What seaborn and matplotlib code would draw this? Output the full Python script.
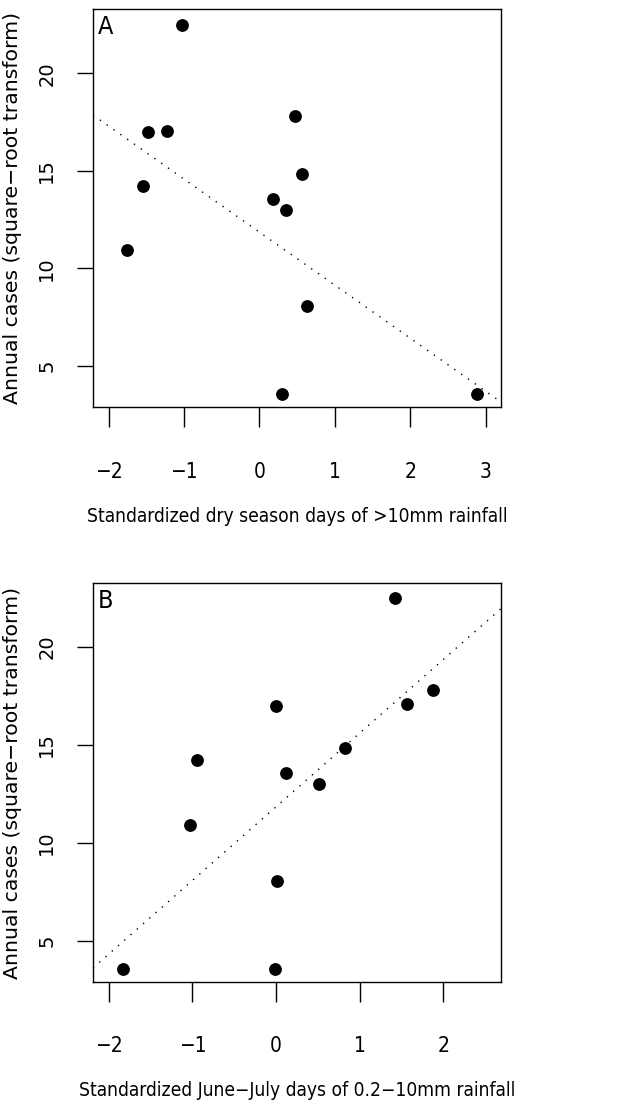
import matplotlib
matplotlib.use("Agg")
import matplotlib.pyplot as plt
import pandas as pd
import seaborn as sns

sns.set_theme(style="white")
plt.rcParams['font.family'] = ['DejaVu Sans']
plt.rcParams.update({"text.color": "black", "axes.labelcolor": "black",
                     "xtick.color": "black", "ytick.color": "black"})

# square-root transformed annual cases (same years in both panels)
cases = [22.5, 17.8, 17.05, 16.98, 14.84, 14.23, 13.53, 13.0, 10.92, 8.06, 3.56, 3.56]
# standardized rainfall predictors
dry_days = [-1.03, 0.47, -1.22, -1.48, 0.56, -1.55, 0.175, 0.347, -1.757, 0.63, 0.30, 2.88]
junjul_days = [1.426, 1.873, 1.562, 0.004, 0.829, -0.948, 0.116, 0.51, -1.032, 0.012, -1.829, -0.013]

# fitted lines (intercept, slope)
fit_dry = (11.85, -2.72)
fit_junjul = (11.83, 3.757)

xlabel_dry = "Standardized dry season days of >10mm rainfall"
xlabel_junjul = "Standardized June\u2212July days of 0.2\u221210mm rainfall"
ylabel = "Annual cases (square\u2212root transform)"

df = pd.DataFrame({"cases": cases, "dry": dry_days, "junjul": junjul_days})

fig = plt.figure(figsize=(6.34, 11.09), dpi=100)
ax_a = fig.add_axes([0.1467, 0.633, 0.643, 0.3589])
ax_b = fig.add_axes([0.1467, 0.1148, 0.643, 0.3592])

panels = [
    (ax_a, "dry", fit_dry, xlabel_dry, "A", (-2.208, 3.199), (2.88, 23.30), [-2, -1, 0, 1, 2, 3]),
    (ax_b, "junjul", fit_junjul, xlabel_junjul, "B", (-2.188, 2.686), (2.91, 23.23), [-2, -1, 0, 1, 2]),
]

for ax, col, fit, xlab, letter, xlim, ylim, xticks in panels:
    sns.scatterplot(data=df, x=col, y="cases", ax=ax, color="black", s=85,
                    edgecolor="black", linewidth=0, zorder=3)
    ax.axline((0, fit[0]), slope=fit[1], color="black", linewidth=1,
              linestyle=(0, (1, 5)), zorder=2)
    ax.set_xlim(*xlim)
    ax.set_ylim(*ylim)
    ax.set_xticks(xticks)
    ax.set_xticklabels([str(t).replace("-", "\u2212") for t in xticks],
                       fontsize=15, fontstretch="condensed")
    ax.set_yticks([5, 10, 15, 20])
    ax.set_yticklabels(["5", "10", "15", "20"], fontsize=14, rotation=90, va="center")
    ax.tick_params(axis="x", direction="out", length=14.4, width=1, pad=25,
                   bottom=True, color="black")
    ax.tick_params(axis="y", direction="out", length=11.5, width=1, pad=15,
                   left=True, color="black")
    for sp in ax.spines.values():
        sp.set_color("black")
        sp.set_linewidth(1)
    ax.set_xlabel(xlab, fontsize=13.8, fontstretch="condensed")
    ax.set_ylabel(ylabel, fontsize=14.7)
    ax.xaxis.set_label_coords(0.5, -0.25)
    ax.yaxis.set_label_coords(-0.174, 0.5)
    ax.text(0.012, 0.985, letter, transform=ax.transAxes, ha="left", va="top",
            fontsize=18, fontstretch="condensed")

fig.savefig("out.png", dpi=100)
